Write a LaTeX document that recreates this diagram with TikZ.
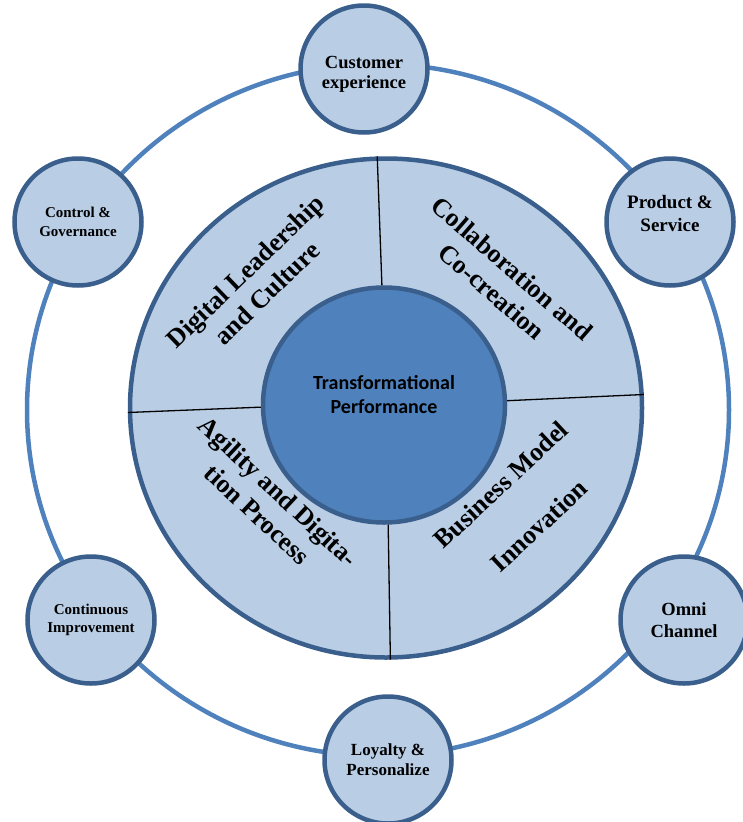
\documentclass[tikz,border=0pt]{standalone}
\usepackage{fontspec}
\setmainfont{Liberation Serif}
\newfontfamily\hubfont{Carlito}
\usetikzlibrary{shapes.geometric}
\definecolor{paleblue}{HTML}{B9CDE5}
\definecolor{edgeblue}{HTML}{3A5F8C}
\definecolor{ringblue}{HTML}{4F81BD}
\definecolor{hubblue}{HTML}{4F81BD}
\tikzset{
  sat/.style={circle, draw=edgeblue, line width=4.5pt, fill=paleblue,
    minimum size=127pt, inner sep=0pt, align=center, font=\bfseries},
  seglabel/.style={align=center, inner sep=0pt,
    font=\fontsize{26}{31}\selectfont\bfseries},
  divider/.style={draw=black, line width=1.3pt},
}
\begin{document}
\begin{tikzpicture}[x=1pt, y=-1pt]
\useasboundingbox (0,0) rectangle (742,822);

% outer ring linking the six satellites
\draw[ringblue, line width=4.5pt] (378,410) ellipse [x radius=351, y radius=346];

% main disc and hub
\node[ellipse, draw=edgeblue, line width=4.5pt, fill=paleblue,
      minimum width=512pt, minimum height=499pt, inner sep=0pt] (disc) at (386,408) {};
\node[ellipse, draw=edgeblue, line width=4.5pt, fill=hubblue,
      minimum width=242pt, minimum height=235pt, inner sep=0pt] (hub) at (384,405) {};
\node[align=center, inner sep=0pt, font=\hubfont\fontsize{20}{24}\selectfont\bfseries]
      (hubtext) at (hub.center) [yshift=10pt] {Transformational\\Performance};

% quadrant dividers
\draw[divider] (disc.92) -- (hub.91);
\draw[divider] (disc.181) -- (hub.181.5);
\draw[divider] (disc.3) -- (hub.2.5);
\draw[divider] (disc.271.6) -- (hub.272);

% quadrant labels
\node[seglabel, rotate=44] (lead) at (256,282) {Digital Leadership\\and Culture};
\node[seglabel, rotate=-41] (collab) at (502,280) {Collaboration and\\Co-creation};
\node[seglabel, rotate=-43] (agile) at (268,503) {Agility and Digita-\\tion Process};
\node[seglabel, rotate=43] (biz) at (520,505) {Business Model\\[25pt]Innovation};

% satellites
\node[sat, font=\fontsize{18.5}{20}\selectfont\bfseries] (cust) at (364,69) {Customer\\experience\\[-26pt]\mbox{}};
\node[sat, font=\fontsize{19}{23}\selectfont\bfseries] (prod) at (670,222) {Product \&\\Service\\[-6pt]\mbox{}};
\node[sat, font=\fontsize{15}{19}\selectfont\bfseries] (ctrl) at (78,222) {Control \&\\Governance};
\node[sat, font=\fontsize{15}{18}\selectfont\bfseries] (cont) at (91,620) {Continuous\\Improvement};
\node[sat, font=\fontsize{18.5}{22}\selectfont\bfseries] (omni) at (684,620) {Omni\\Channel};
\node[sat, font=\fontsize{17}{20}\selectfont\bfseries] (loyal) at (388,760) {Loyalty \&\\Personalize};
\end{tikzpicture}
\end{document}
